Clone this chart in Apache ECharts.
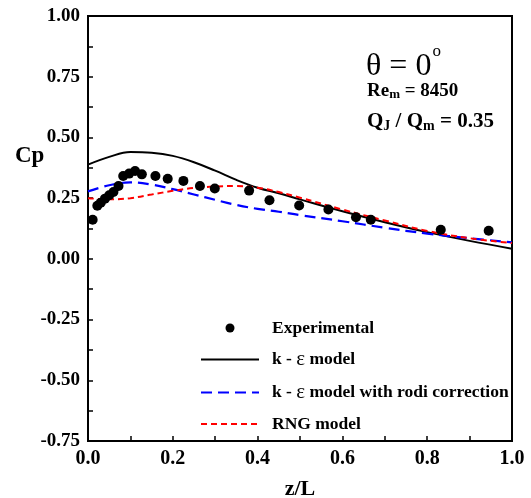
<!DOCTYPE html>
<html>
<head>
<meta charset="utf-8">
<script src="https://cdn.jsdelivr.net/npm/echarts@6/dist/echarts.min.js"></script>
<style>html,body{margin:0;padding:0;background:#fff}#c{width:531px;height:498px}</style>
</head>
<body>
<div id="c"></div>
<script>
// Experimental points (z/L, Cp)
const expX = [0.011,0.022,0.030,0.040,0.050,0.060,0.072,0.083,0.097,0.111,0.127,0.159,0.188,0.225,0.264,0.299,0.380,0.428,0.498,0.567,0.632,0.667,0.832,0.945];
const expY = [0.161,0.219,0.231,0.248,0.262,0.275,0.300,0.341,0.351,0.362,0.348,0.341,0.330,0.321,0.300,0.290,0.281,0.241,0.220,0.203,0.171,0.161,0.120,0.116];
// Model curves
const curveX = [0,0.05,0.1,0.15,0.2,0.25,0.3,0.35,0.4,0.45,0.5,0.6,0.7,0.8,0.9,1.0];
const kEpsY  = [0.388,0.420,0.440,0.437,0.424,0.398,0.363,0.325,0.293,0.270,0.245,0.196,0.151,0.110,0.074,0.042];
const rodiY  = [0.278,0.303,0.315,0.306,0.287,0.265,0.243,0.222,0.206,0.194,0.180,0.155,0.128,0.104,0.085,0.068];
const rngY   = [0.250,0.245,0.250,0.265,0.280,0.292,0.298,0.300,0.293,0.275,0.252,0.203,0.158,0.115,0.085,0.065];
const seriesNames = ['Experimental','k - ε model','k - ε model with rodi correction','RNG model'];
const xTicks = {min:0, max:1, interval:0.2};
const yTicks = {min:-0.75, max:1, interval:0.25};

const zip = (xs, ys) => xs.map((x,i)=>[x, ys[i]]);
const serif = 'Liberation Serif';
const chart = echarts.init(document.getElementById('c'), null, {renderer:'canvas'});
const legendFmt = n => n.replace('ε', '{e|ε}');
chart.setOption({
  animation:false,
  grid:{left:88, right:19, top:16, bottom:57, show:true, borderColor:'#000', borderWidth:2, backgroundColor:'transparent',
    containLabel:false, outerBoundsMode:'none'},
  xAxis:{type:'value', min:xTicks.min, max:xTicks.max, interval:xTicks.interval,
    name:'z/L', nameLocation:'middle', nameGap:37,
    nameTextStyle:{fontFamily:serif, fontWeight:'bold', fontSize:22, color:'#000'},
    axisLine:{onZero:false, lineStyle:{color:'#000', width:2}},
    axisTick:{inside:true, length:5, lineStyle:{color:'#000', width:1.5}},
    minorTick:{show:true, splitNumber:2, length:5, lineStyle:{color:'#000', width:1.5}},
    splitLine:{show:false},
    axisLabel:{formatter:v=>v.toFixed(1), fontFamily:serif, fontWeight:'bold', fontSize:20, color:'#000', margin:8}
  },
  yAxis:{type:'value', min:yTicks.min, max:yTicks.max, interval:yTicks.interval,
    axisLine:{onZero:false, lineStyle:{color:'#000', width:2}},
    axisTick:{inside:true, length:5, lineStyle:{color:'#000', width:1.5}},
    minorTick:{show:true, splitNumber:2, length:5, lineStyle:{color:'#000', width:1.5}},
    splitLine:{show:false},
    axisLabel:{formatter:v=>v.toFixed(2), fontFamily:serif, fontWeight:'bold', fontSize:19, color:'#000', margin:8}
  },
  legend:{orient:'vertical', left:195, top:314, itemWidth:58, itemHeight:9, itemGap:12,
    data:[
      {name:seriesNames[0]},
      {name:seriesNames[1], itemStyle:{opacity:0}},
      {name:seriesNames[2], itemStyle:{opacity:0}},
      {name:seriesNames[3], itemStyle:{opacity:0}}
    ],
    formatter:legendFmt,
    textStyle:{fontFamily:serif, fontWeight:'bold', fontSize:17.5, color:'#000', lineHeight:18, padding:[0,0,0,8],
      rich:{e:{fontFamily:serif, fontWeight:'normal', fontSize:21, color:'#000'}}}
  },
  graphic:[
    {type:'text', left:15, top:145, style:{text:'Cp', fontFamily:serif, fontWeight:'bold', fontSize:23, fill:'#000'}},
    {type:'text', left:366, top:43, style:{text:'θ = 0{s|o}', fontFamily:serif, fontSize:32, fill:'#000',
      rich:{s:{fontFamily:serif, fontSize:17, verticalAlign:'top', padding:[0,0,30,1]}}}},
    {type:'text', left:367, top:82, style:{text:'Re{s|m} = 8450', fontFamily:serif, fontWeight:'bold', fontSize:19, fill:'#000',
      rich:{s:{fontFamily:serif, fontWeight:'bold', fontSize:13, padding:[6,0,0,0]}}}},
    {type:'text', left:367, top:111, style:{text:'Q{s|J} / Q{s|m} = 0.35', fontFamily:serif, fontWeight:'bold', fontSize:21, fill:'#000',
      rich:{s:{fontFamily:serif, fontWeight:'bold', fontSize:14, padding:[9,0,0,0]}}}}
  ],
  series:[
    {name:seriesNames[0], type:'scatter', data:zip(expX, expY), symbol:'circle', symbolSize:10, itemStyle:{color:'#000', opacity:1}, z:5},
    {name:seriesNames[1], type:'line', data:zip(curveX, kEpsY), smooth:0.4, symbol:'none', lineStyle:{color:'#000', width:2}, itemStyle:{color:'#000'}},
    {name:seriesNames[2], type:'line', data:zip(curveX, rodiY), smooth:0.4, symbol:'none', lineStyle:{color:'#0000ff', width:2.2, type:[11,6]}, itemStyle:{color:'#0000ff'}},
    {name:seriesNames[3], type:'line', data:zip(curveX, rngY), smooth:0.4, symbol:'none', lineStyle:{color:'#ff0000', width:2, type:[6,4]}, itemStyle:{color:'#ff0000'}}
  ]
});
</script>
</body>
</html>
